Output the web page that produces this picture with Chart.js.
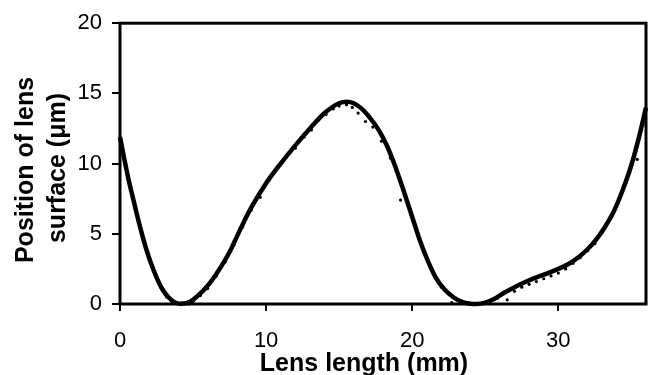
<!DOCTYPE html>
<html>
<head>
<meta charset="utf-8">
<script src="https://cdn.jsdelivr.net/npm/chart.js@4/dist/chart.umd.min.js"></script>
<style>
  html, body { margin: 0; padding: 0; background: #fff; }
  #wrap { width: 650px; height: 375px; }
</style>
</head>
<body>
<div id="wrap"><canvas id="lens-chart"></canvas></div>
<script>
// Fitted lens surface (thick line)
const fitX = [0, 0.3, 0.6, 0.9, 1.2, 1.5, 1.8, 2.1, 2.5, 2.9, 3.3, 3.7, 4.1, 4.5, 5.0, 5.5, 6.0, 6.5, 7.0, 7.5, 8.0, 8.5, 9.0, 10, 11, 12, 13, 14, 15, 15.5, 16, 16.5, 17, 17.7, 18.3, 18.8, 19.4, 20, 20.5, 21.1, 21.6, 22.2, 22.8, 23.4, 24, 24.4, 25, 25.6, 26.3, 27, 27.7, 28.5, 29.3, 30, 30.7, 31.4, 32, 32.6, 33.2, 33.8, 34.4, 35, 35.5, 36];
const fitY = [11.9, 10.3, 8.8, 7.5, 6.2, 5.0, 3.9, 2.95, 1.9, 1.05, 0.5, 0.15, 0.02, 0.05, 0.3, 0.75, 1.3, 2.0, 2.8, 3.7, 4.8, 5.9, 6.9, 8.6, 10.0, 11.3, 12.5, 13.6, 14.3, 14.4, 14.3, 13.95, 13.4, 12.4, 11.2, 9.9, 8.1, 6.2, 4.6, 3.0, 1.9, 1.05, 0.5, 0.15, 0.02, 0.0, 0.1, 0.35, 0.8, 1.2, 1.55, 1.9, 2.2, 2.5, 2.85, 3.35, 3.9, 4.6, 5.5, 6.6, 8.1, 9.9, 11.8, 14.0];

// Measured points (small dots)
const measX = [0.2, 0.6, 1.0, 1.4, 1.9, 2.4, 2.8, 3.2, 3.6, 4.2, 4.7, 5.0, 5.5, 6.0, 6.6, 7.2, 7.8, 8.4, 9.0, 9.6, 10.2, 10.8, 11.4, 12.0, 12.6, 13.1, 13.6, 14.1, 14.6, 15.0, 15.5, 15.9, 16.3, 16.8, 17.3, 17.9, 18.5, 19.2, 19.6, 20.3, 20.8, 21.4, 22.0, 22.7, 23.3, 23.9, 24.6, 25.3, 25.8, 26.5, 27.0, 27.5, 28.0, 28.5, 29.0, 29.5, 30.0, 30.5, 31.0, 31.5, 32.0, 32.5, 33.0, 33.5, 34.0, 34.5, 35.0, 35.4, 35.8];
const measY = [10.9, 8.7, 6.9, 5.3, 3.5, 2.1, 1.2, 0.5, 0.1, 0.0, 0.0, 0.2, 0.6, 1.1, 2.0, 3.0, 4.2, 5.5, 6.7, 7.6, 8.8, 9.8, 10.6, 11.1, 11.9, 12.4, 13.1, 13.5, 13.9, 14.1, 14.2, 14.0, 13.6, 13.0, 12.6, 11.6, 10.4, 7.4, 7.6, 5.3, 3.7, 2.3, 1.2, 0.1, 0.2, 0.0, 0.0, 0.1, 0.4, 0.3, 0.9, 1.2, 1.4, 1.6, 1.8, 2.0, 2.2, 2.5, 2.9, 3.3, 3.8, 4.3, 5.1, 6.0, 7.1, 8.5, 10.0, 10.3, 12.8];

const xTicks = [0, 10, 20, 30];
const yTicks = [0, 5, 10, 15, 20];
const xTitle = 'Lens length (mm)';
const yTitle = ['Position of lens', 'surface (\u03bcm)'];

Chart.defaults.font.family = '"Liberation Sans", Arial, sans-serif';
Chart.defaults.color = '#000';

// box around plot + axis titles
const framePlugin = {
    id: 'frame',
    afterDraw(chart) {
        const { ctx, chartArea: a } = chart;
        ctx.save();
        ctx.strokeStyle = '#000';
        ctx.lineWidth = 3;
        ctx.strokeRect(a.left, a.top, a.right - a.left, a.bottom - a.top);

        ctx.fillStyle = '#000';
        ctx.font = 'bold 25px "Liberation Sans", Arial, sans-serif';
        ctx.textAlign = 'center';
        ctx.textBaseline = 'alphabetic';
        ctx.fillText(xTitle, 364, 371);

        ctx.save();
        ctx.translate(33, 170);
        ctx.rotate(-Math.PI / 2);
        ctx.fillText(yTitle[0], 0, 0);
        ctx.restore();
        ctx.save();
        ctx.translate(65, 168);
        ctx.rotate(-Math.PI / 2);
        ctx.fillText(yTitle[1], 0, 0);
        ctx.restore();
        ctx.restore();
    }
};

const keepTicks = (list) => (scale) => {
    scale.ticks = list.map(v => ({ value: v }));
};

new Chart(document.getElementById('lens-chart'), {
    type: 'scatter',
    data: {
        datasets: [
            {
                label: 'fit',
                data: fitX.map((x, i) => ({ x: x, y: fitY[i] })),
                showLine: true,
                borderColor: '#000',
                borderWidth: 4.5,
                pointRadius: 0,
                cubicInterpolationMode: 'monotone',
                clip: false
            },
            {
                label: 'measured',
                data: measX.map((x, i) => ({ x: x, y: measY[i] })),
                showLine: false,
                backgroundColor: '#000',
                borderColor: '#000',
                pointRadius: 1.6,
                borderWidth: 0,
                clip: false
            }
        ]
    },
    options: {
        responsive: true,
        maintainAspectRatio: false,
        animation: false,
        layout: { padding: { top: 14, right: 3, left: 0, bottom: 0 } },
        plugins: {
            legend: { display: false },
            tooltip: { enabled: false }
        },
        scales: {
            x: {
                type: 'linear',
                min: 0,
                max: 36,
                afterBuildTicks: keepTicks(xTicks),
                afterFit: (s) => { s.height = 71; },
                border: { display: false },
                grid: { drawOnChartArea: false, drawTicks: true, tickLength: 7, color: '#000', lineWidth: 2 },
                ticks: { font: { size: 22 }, padding: 17, maxRotation: 0, autoSkip: false }
            },
            y: {
                min: 0,
                max: 20,
                afterBuildTicks: keepTicks(yTicks),
                afterFit: (s) => { s.width = 120; },
                border: { display: false },
                grid: { drawOnChartArea: false, drawTicks: true, tickLength: 8, color: '#000', lineWidth: 2 },
                ticks: { font: { size: 22 }, padding: 10, autoSkip: false }
            }
        }
    },
    plugins: [framePlugin]
});
</script>
</body>
</html>
